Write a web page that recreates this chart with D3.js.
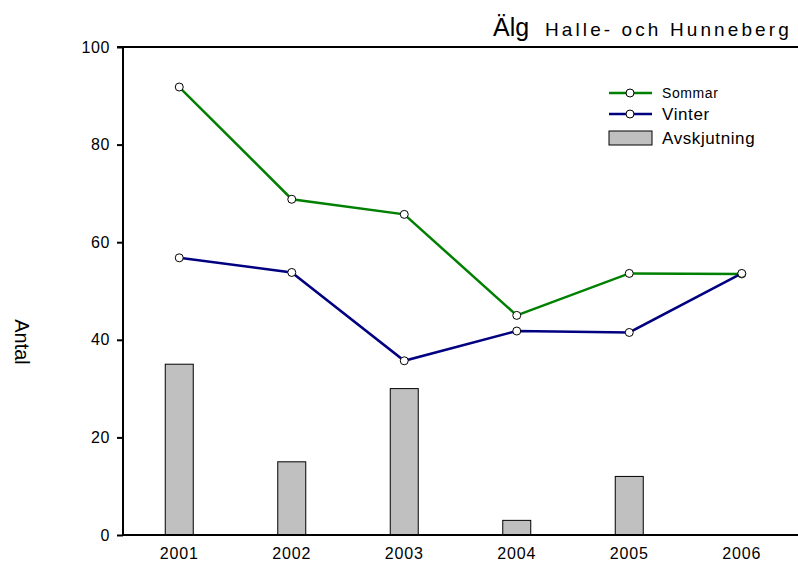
<!DOCTYPE html>
<html lang="sv">
<head>
<meta charset="utf-8">
<title>Älg Halle- och Hunneberg</title>
<script src="https://cdn.jsdelivr.net/npm/d3@7"></script>
<style>
  body { margin: 0; background: #fff; }
  svg text { font-family: "Liberation Sans", Arial, sans-serif; fill: #000; }
</style>
</head>
<body>
<script>
// data
var years = ["2001", "2002", "2003", "2004", "2005", "2006"];
var sommar = [91.8, 68.8, 65.7, 45, 53.6, 53.5];
var vinter = [56.8, 53.8, 35.7, 41.8, 41.5, 53.6];
var avskjutning = [35, 15, 30, 3, 12, 0];
var yTicks = [0, 20, 40, 60, 80, 100];

(function () {
    var w = 798, h = 563;
    var mLeft = 123, mRight = 798, mTop = 47, mBottom = 535;

    var svg = d3.select("body").append("svg")
        .attr("width", w)
        .attr("height", h);

    var x = d3.scaleBand().domain(years).range([mLeft, mRight]);
    var y = d3.scaleLinear().domain([0, 100]).range([mBottom, mTop]);
    var cx = function (i) { return x(years[i]) + x.bandwidth() / 2; };

    // bars (Avskjutning)
    svg.selectAll("rect.bar")
        .data(avskjutning.map(function (d, i) { return { v: d, i: i }; })
            .filter(function (d) { return d.v > 0; }))
        .enter()
        .append("rect")
        .attr("class", "bar")
        .attr("x", function (d) { return cx(d.i) - 14; })
        .attr("y", function (d) { return y(d.v); })
        .attr("width", 28)
        .attr("height", function (d) { return mBottom - y(d.v); })
        .attr("fill", "#c0c0c0")
        .attr("stroke", "#000")
        .attr("stroke-width", 1);

    // axes
    var yAxis = d3.axisLeft(y).tickValues(yTicks).tickSize(6).tickPadding(7);
    var gy = svg.append("g").attr("transform", "translate(" + mLeft + ",0)").call(yAxis);
    gy.select(".domain").remove();
    gy.selectAll("line").attr("stroke-width", 2);
    gy.selectAll("text")
        .style("font-size", "16px")
        .style("letter-spacing", "0.6px")
        .style("font-family", "'Liberation Sans', Arial, sans-serif");

    var xAxis = d3.axisBottom(x).tickSize(0).tickPadding(13);
    var gx = svg.append("g").attr("transform", "translate(0," + mBottom + ")").call(xAxis);
    gx.select(".domain").remove();
    gx.selectAll("text")
        .style("font-size", "16px")
        .style("letter-spacing", "0.8px")
        .style("font-family", "'Liberation Sans', Arial, sans-serif");

    // frame: left, bottom, top
    svg.append("line").attr("x1", mLeft).attr("x2", mLeft).attr("y1", mTop - 1).attr("y2", mBottom + 1)
        .attr("stroke", "#000").attr("stroke-width", 2);
    svg.append("line").attr("x1", mLeft - 1).attr("x2", mRight).attr("y1", mBottom).attr("y2", mBottom)
        .attr("stroke", "#000").attr("stroke-width", 2);
    svg.append("line").attr("x1", mLeft - 6).attr("x2", mRight).attr("y1", mTop).attr("y2", mTop)
        .attr("stroke", "#000").attr("stroke-width", 2);

    // lines
    var line = d3.line()
        .x(function (d, i) { return cx(i); })
        .y(function (d) { return y(d); });

    var series = [
        { name: "Sommar", values: sommar, color: "#008000" },
        { name: "Vinter", values: vinter, color: "#000080" }
    ];

    series.forEach(function (s) {
        svg.append("path")
            .datum(s.values)
            .attr("d", line)
            .attr("fill", "none")
            .attr("stroke", s.color)
            .attr("stroke-width", 2.5);
    });
    series.forEach(function (s) {
        svg.selectAll(null)
            .data(s.values)
            .enter()
            .append("circle")
            .attr("cx", function (d, i) { return cx(i); })
            .attr("cy", function (d) { return y(d); })
            .attr("r", 4)
            .attr("fill", "#fff")
            .attr("stroke", "#000")
            .attr("stroke-width", 1);
    });

    // legend
    var lg = svg.append("g");
    var legendRows = [
        { label: "Sommar", color: "#008000", y: 93, size: 14 },
        { label: "Vinter", color: "#000080", y: 114, size: 17 }
    ];
    legendRows.forEach(function (r) {
        lg.append("line").attr("x1", 609).attr("x2", 652).attr("y1", r.y).attr("y2", r.y)
            .attr("stroke", r.color).attr("stroke-width", 2.5);
        lg.append("circle").attr("cx", 630).attr("cy", r.y).attr("r", 4)
            .attr("fill", "#fff").attr("stroke", "#000");
        lg.append("text").attr("x", 662).attr("y", r.y).attr("dy", "0.35em")
            .style("font-size", r.size + "px").style("letter-spacing", "0.6px").text(r.label);
    });
    lg.append("rect").attr("x", 609).attr("y", 131).attr("width", 43).attr("height", 14)
        .attr("fill", "#c0c0c0").attr("stroke", "#000");
    lg.append("text").attr("x", 662).attr("y", 138).attr("dy", "0.35em")
        .style("font-size", "17px").style("letter-spacing", "0.6px").text("Avskjutning");

    // title
    var title = svg.append("text").attr("x", 493).attr("y", 36);
    title.append("tspan").style("font-size", "25px").text("Älg");
    title.append("tspan").attr("x", 545).style("font-size", "19px")
        .style("letter-spacing", "3.1px").text("Halle- och Hunneberg");

    // y label
    svg.append("text")
        .attr("transform", "translate(22,342) rotate(90)")
        .attr("text-anchor", "middle")
        .attr("dy", "0.35em")
        .style("font-size", "20px")
        .text("Antal");
})();
</script>
</body>
</html>
